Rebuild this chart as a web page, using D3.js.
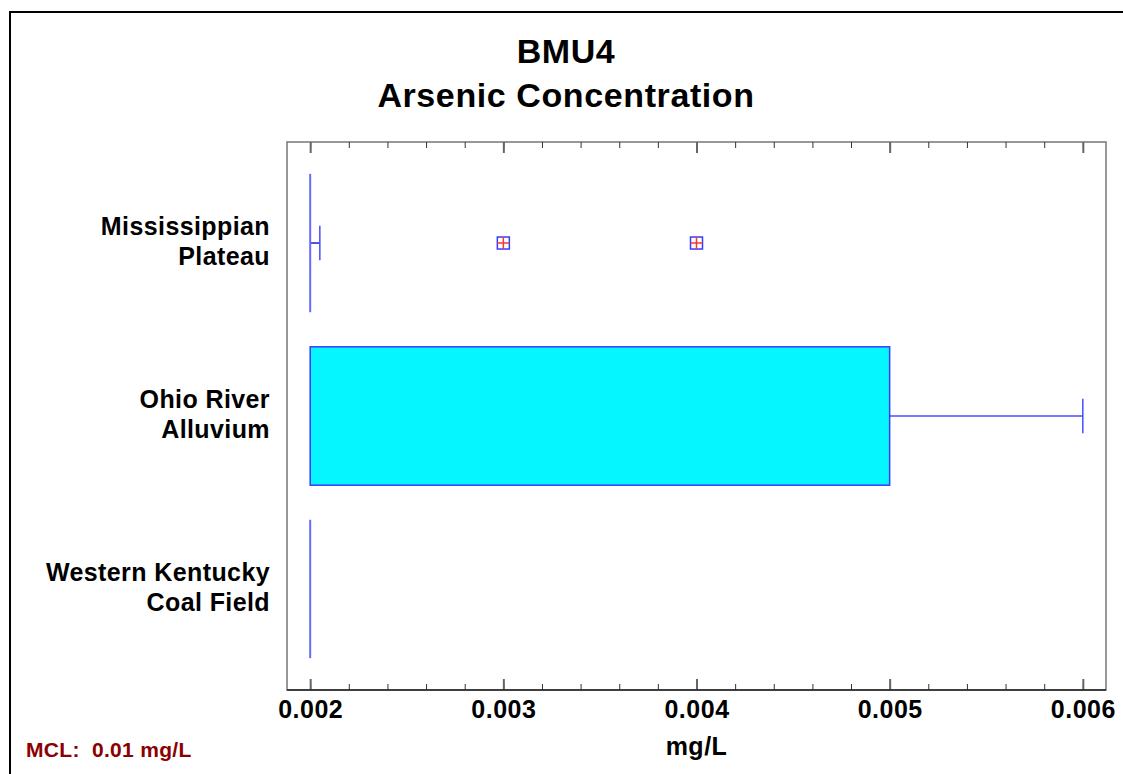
<!DOCTYPE html>
<html>
<head>
<meta charset="utf-8">
<script src="https://cdn.jsdelivr.net/npm/d3@7"></script>
<style>
  html, body { margin: 0; padding: 0; background: #fff; }
  svg { display: block; }
  text { font-family: "Liberation Sans", Arial, sans-serif; font-weight: bold; }
</style>
</head>
<body>
<svg id="chart" width="1123" height="774"></svg>
<script>
// ---- data ----
const categories = ["Mississippian Plateau", "Ohio River Alluvium", "Western Kentucky Coal Field"];
const categoryLines = [["Mississippian", "Plateau"], ["Ohio River", "Alluvium"], ["Western Kentucky", "Coal Field"]];
const mins    = [0.002, 0.002, 0.002];
const q1s     = [0.002, 0.002, 0.002];
const medians = [0.002, 0.002, 0.002];
const q3s     = [0.002, 0.005, 0.002];
const maxs    = [0.00205, 0.006, 0.002];
const outliers = [[0.003, 0.004], [], []];
const xTicks = [0.002, 0.003, 0.004, 0.005, 0.006];
const xTickLabels = ["0.002", "0.003", "0.004", "0.005", "0.006"];
const titleLines = ["BMU4", "Arsenic Concentration"];
const xLabel = "mg/L";
const footnote = "MCL:  0.01 mg/L";

// ---- layout ----
const svg = d3.select("#chart");
const plot = { left: 287, right: 1106, top: 142, bottom: 690 };

const x = d3.scaleLinear().domain([0.00188, 0.00612]).range([plot.left, plot.right]);
const y = d3.scaleBand().domain(categories).range([plot.top, plot.bottom])
  .paddingInner(0.2).paddingOuter(0.184);

// outer border
svg.append("rect").attr("x", 10).attr("y", 12).attr("width", 1200).attr("height", 900)
  .attr("fill", "none").attr("stroke", "#000").attr("stroke-width", 2);

// titles
titleLines.forEach((t, i) => {
  svg.append("text").attr("x", 566).attr("y", 63 + i * 44).attr("text-anchor", "middle")
    .attr("font-size", 34).attr("letter-spacing", 0.6).attr("fill", "#000").text(t);
});

// plot frame
svg.append("rect").attr("x", plot.left).attr("y", plot.top)
  .attr("width", plot.right - plot.left).attr("height", plot.bottom - plot.top)
  .attr("fill", "#fff").attr("stroke", "#777").attr("stroke-width", 1.5);

// ticks (minor + major) on top and bottom, pointing inward
const minor = d3.range(0, 23).map(i => 0.0018 + i * 0.0002).filter(v => x(v) > plot.left + 1 && x(v) < plot.right - 1);
const bottomAxis = d3.axisBottom(x).tickValues(minor).tickSize(-6).tickFormat("");
const topAxis = d3.axisTop(x).tickValues(minor).tickSize(-6).tickFormat("");
const gB = svg.append("g").attr("transform", `translate(0,${plot.bottom})`).call(bottomAxis);
const gT = svg.append("g").attr("transform", `translate(0,${plot.top})`).call(topAxis);
[gB, gT].forEach(g => { g.select(".domain").remove(); g.selectAll("line").attr("stroke", "#333").attr("stroke-width", 1); });
const majB = svg.append("g").attr("transform", `translate(0,${plot.bottom})`)
  .call(d3.axisBottom(x).tickValues(xTicks).tickSize(-11).tickFormat((d, i) => xTickLabels[i]).tickPadding(10));
const majT = svg.append("g").attr("transform", `translate(0,${plot.top})`)
  .call(d3.axisTop(x).tickValues(xTicks).tickSize(-11).tickFormat(""));
[majB, majT].forEach(g => { g.select(".domain").remove(); g.selectAll("line").attr("stroke", "#666").attr("stroke-width", 2); });
majB.selectAll("text").attr("font-size", 25).attr("letter-spacing", 0.5).attr("fill", "#000")
  .attr("font-family", "'Liberation Sans', Arial, sans-serif").attr("font-weight", "bold");
// bottom axis line
svg.append("line").attr("x1", plot.left).attr("x2", plot.right).attr("y1", plot.bottom).attr("y2", plot.bottom)
  .attr("stroke", "#222").attr("stroke-width", 1.5);

// category labels
categories.forEach((c, i) => {
  const cy = y(c) + y.bandwidth() / 2;
  const t = svg.append("text").attr("x", 270).attr("y", cy - 8).attr("text-anchor", "end")
    .attr("font-size", 25).attr("letter-spacing", 0.4).attr("fill", "#000");
  categoryLines[i].forEach((l, j) => {
    t.append("tspan").attr("x", 270).attr("dy", j === 0 ? 0 : 30).text(l);
  });
});

// boxes
const boxStroke = "#4a4aff";
categories.forEach((c, i) => {
  const top = y(c), h = y.bandwidth(), cy = top + h / 2;
  const g = svg.append("g");
  // whiskers
  if (maxs[i] > q3s[i]) {
    g.append("line").attr("x1", x(q3s[i])).attr("x2", x(maxs[i])).attr("y1", cy).attr("y2", cy)
      .attr("stroke", maxs[i] - q3s[i] < 0.0001 ? "#1a1acc" : boxStroke).attr("stroke-width", 1.5);
    g.append("line").attr("x1", x(maxs[i])).attr("x2", x(maxs[i])).attr("y1", cy - h / 8).attr("y2", cy + h / 8)
      .attr("stroke", boxStroke).attr("stroke-width", 1.5);
  }
  if (mins[i] < q1s[i]) {
    g.append("line").attr("x1", x(mins[i])).attr("x2", x(q1s[i])).attr("y1", cy).attr("y2", cy)
      .attr("stroke", boxStroke).attr("stroke-width", 1.5);
    g.append("line").attr("x1", x(mins[i])).attr("x2", x(mins[i])).attr("y1", cy - h / 8).attr("y2", cy + h / 8)
      .attr("stroke", boxStroke).attr("stroke-width", 1.5);
  }
  // box
  if (q3s[i] > q1s[i]) {
    g.append("rect").attr("x", x(q1s[i])).attr("y", top).attr("width", x(q3s[i]) - x(q1s[i])).attr("height", h)
      .attr("fill", "#06f6ff").attr("stroke", "#3a3aff").attr("stroke-width", 1.5);
  } else {
    g.append("line").attr("x1", x(q1s[i])).attr("x2", x(q1s[i])).attr("y1", top).attr("y2", top + h)
      .attr("stroke", "#6a6aff").attr("stroke-width", 2);
  }
  // outliers
  outliers[i].forEach(v => {
    const ox = x(v), s = 6;
    g.append("rect").attr("x", ox - s).attr("y", cy - s).attr("width", 2 * s).attr("height", 2 * s)
      .attr("fill", "none").attr("stroke", "#3a3aff").attr("stroke-width", 1.5);
    g.append("line").attr("x1", ox - s).attr("x2", ox + s).attr("y1", cy).attr("y2", cy)
      .attr("stroke", "#ff3333").attr("stroke-width", 1.5);
    g.append("line").attr("x1", ox).attr("x2", ox).attr("y1", cy - s).attr("y2", cy + s)
      .attr("stroke", "#ff3333").attr("stroke-width", 1.5);
  });
});

// axis label & footnote
svg.append("text").attr("x", x(0.0040)).attr("y", 755).attr("text-anchor", "middle")
  .attr("font-size", 25).attr("letter-spacing", 0.5).attr("fill", "#000").text(xLabel);
svg.append("text").attr("x", 26).attr("y", 757).attr("font-size", 21).attr("letter-spacing", 0.3)
  .style("white-space", "pre").attr("xml:space", "preserve").attr("fill", "#8b0000").text(footnote);
</script>
</body>
</html>
